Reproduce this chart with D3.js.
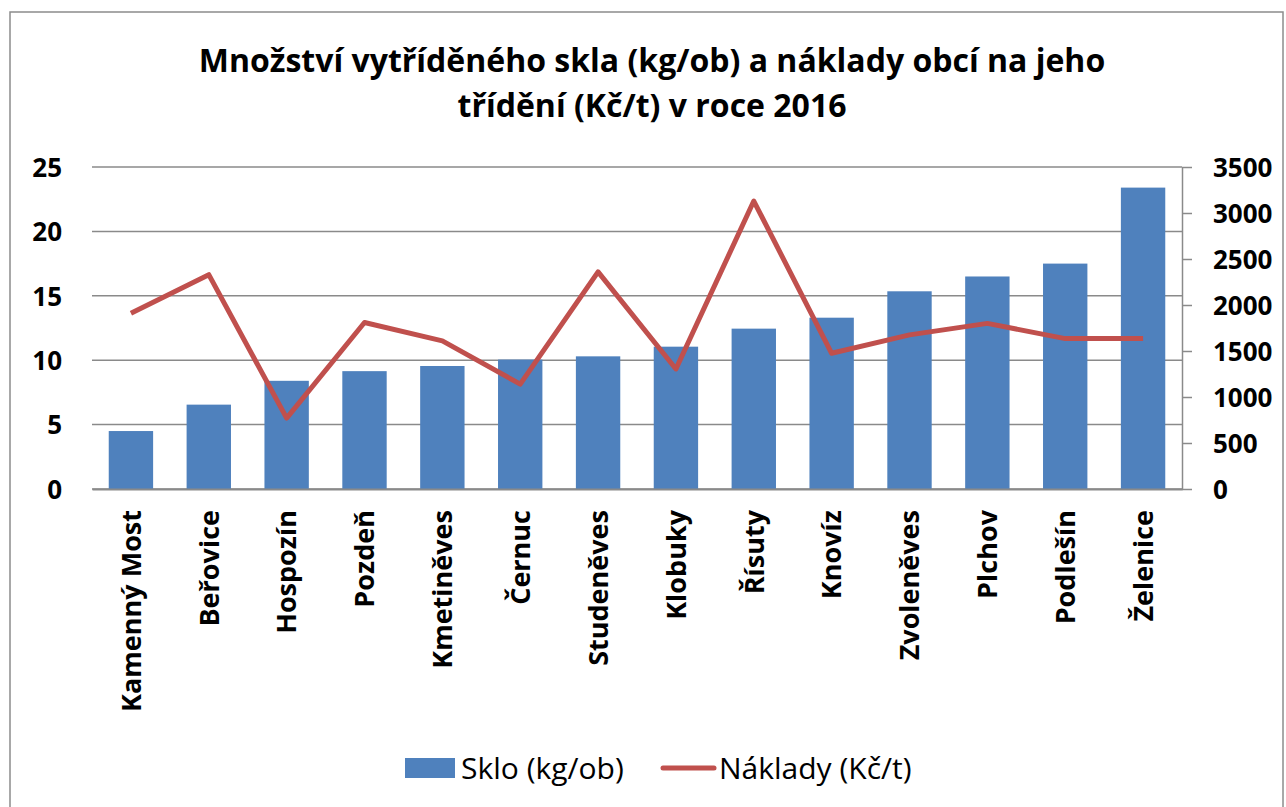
<!DOCTYPE html>
<html>
<head>
<meta charset="utf-8">
<script src="https://cdn.jsdelivr.net/npm/d3@7"></script>
<style>
  body { margin: 0; background: #fff; }
  text { font-family: "Open Sans", sans-serif; fill: #000; }
</style>
</head>
<body>
<div class="sklo-chart-container"></div>
<script>
// obce a hodnoty
var obce = ["Kamenný Most", "Beřovice", "Hospozín", "Pozdeň", "Kmetiněves", "Černuc",
    "Studeněves", "Klobuky", "Řísuty", "Knovíz", "Zvoleněves", "Plchov", "Podlešín", "Želenice"];
var sklo = [4.5, 6.55, 8.4, 9.15, 9.55, 10.05, 10.3, 11.05, 12.45, 13.3, 15.35, 16.5, 17.5, 23.4];
var naklady = [1910, 2330, 770, 1810, 1610, 1140, 2360, 1305, 3130, 1475, 1675, 1800, 1635, 1635];
var tickySklo = [0, 5, 10, 15, 20, 25];
var tickyNaklady = [0, 500, 1000, 1500, 2000, 2500, 3000, 3500];
var titulek = ["Množství vytříděného skla (kg/ob) a náklady obcí na jeho", "třídění (Kč/t) v roce 2016"];

var W = 1286, H = 807;
var margin = { top: 167, right: 104, bottom: 318, left: 92 },
    width = W - margin.left - margin.right,
    height = H - margin.top - margin.bottom;

var svg = d3.select('.sklo-chart-container')
    .append('svg')
    .attr("width", W)
    .attr("height", H);

// ramecek
svg.append("rect")
    .attr("x", 10).attr("y", 12)
    .attr("width", 1273).attr("height", 800)
    .attr("fill", "none")
    .attr("stroke", "#8c8c8c")
    .attr("stroke-width", 1.5);

svg.selectAll(".titulek")
    .data(titulek)
    .enter().append("text")
    .attr("class", "titulek")
    .attr("x", 652)
    .attr("y", function(d, i) { return 72 + i * 45; })
    .attr("text-anchor", "middle")
    .style("font-size", "32px")
    .style("font-weight", "700")
    .text(function(d) { return d; });

var g = svg.append("g")
    .attr("transform", "translate(" + margin.left + "," + margin.top + ")");

var x = d3.scaleBand()
    .domain(obce)
    .range([0, width])
    .paddingInner(0.43)
    .paddingOuter(0.215);

var xc = d3.scaleBand().domain(obce).range([0, width]);

var y = d3.scaleLinear()
    .domain([0, 25])
    .range([height, 0]);

var y2 = d3.scaleLinear()
    .domain([0, 3500])
    .range([height, 0]);

// mrizka
g.selectAll(".grid")
    .data(tickySklo)
    .enter().append("line")
    .attr("x1", 0).attr("x2", width)
    .attr("y1", function(d) { return y(d); })
    .attr("y2", function(d) { return y(d); })
    .attr("stroke", "#8a8a8a")
    .attr("stroke-width", 1.5);

var yAxis = d3.axisLeft(y)
    .tickValues(tickySklo)
    .tickSize(0)
    .tickPadding(30);

var osaY = g.append("g").call(yAxis);
osaY.select(".domain").remove();
osaY.selectAll("text")
    .style("font-family", "Open Sans")
    .style("font-size", "26px")
    .style("font-weight", "700")
    .attr("dy", "0.36em");

var y2Axis = d3.axisRight(y2)
    .tickValues(tickyNaklady)
    .tickFormat(d3.format("d"))
    .tickSize(10)
    .tickSizeOuter(0)
    .tickPadding(21);

var osaY2 = g.append("g")
    .attr("transform", "translate(" + width + ",0)")
    .call(y2Axis);
osaY2.select(".domain").attr("stroke", "#8a8a8a").attr("stroke-width", 1.5);
osaY2.selectAll("line").attr("stroke", "#8a8a8a").attr("stroke-width", 1.5);
osaY2.selectAll("text")
    .style("font-family", "Open Sans")
    .style("font-size", "26px")
    .style("font-weight", "700")
    .attr("dy", "0.36em");

// sloupce
g.selectAll(".bar")
    .data(sklo)
    .enter().append("rect")
    .attr("class", "bar")
    .attr("x", function(d, i) { return x(obce[i]); })
    .attr("width", x.bandwidth())
    .attr("y", function(d) { return y(d); })
    .attr("height", function(d) { return height - y(d); })
    .attr("fill", "#4f81bd");

var xAxis = d3.axisBottom(xc)
    .tickSize(0)
    .tickPadding(0);

var osaX = g.append("g")
    .attr("transform", "translate(0," + height + ")")
    .call(xAxis);
osaX.select(".domain").attr("stroke", "#8a8a8a").attr("stroke-width", 2);
osaX.selectAll("text")
    .style("font-family", "Open Sans")
    .style("font-size", "27px")
    .style("font-weight", "700")
    .attr("text-anchor", "end")
    .attr("transform", "translate(0,21) rotate(-90)")
    .attr("x", 0).attr("y", 0)
    .attr("dy", "0.36em");

// cara naklady
var line = d3.line()
    .x(function(d, i) { return xc(obce[i]) + xc.bandwidth() / 2; })
    .y(function(d) { return y2(d); });

g.append("path")
    .datum(naklady)
    .attr("d", line)
    .attr("fill", "none")
    .attr("stroke", "#c0504d")
    .attr("stroke-width", 5)
    .attr("stroke-linejoin", "round");

// legenda
var leg = svg.append("g");
leg.append("rect")
    .attr("x", 405).attr("y", 758)
    .attr("width", 50).attr("height", 20)
    .attr("fill", "#4f81bd");
leg.append("text")
    .attr("x", 461).attr("y", 768)
    .attr("dy", "0.36em")
    .style("font-size", "30px")
    .text("Sklo (kg/ob)");
leg.append("line")
    .attr("x1", 663).attr("x2", 714)
    .attr("y1", 768).attr("y2", 768)
    .attr("stroke", "#c0504d")
    .attr("stroke-width", 5)
    .attr("stroke-linecap", "round");
leg.append("text")
    .attr("x", 719).attr("y", 768)
    .attr("dy", "0.36em")
    .style("font-size", "30px")
    .text("Náklady (Kč/t)");
</script>
</body>
</html>
